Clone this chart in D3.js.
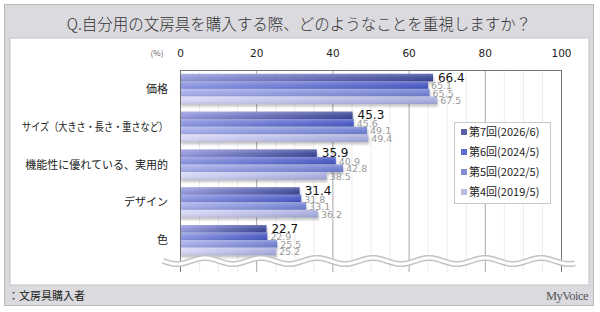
<!DOCTYPE html>
<html><head><meta charset="utf-8">
<script src="https://cdn.jsdelivr.net/npm/d3@7"></script>
<style>
html,body{margin:0;padding:0;background:#fff;}
svg{display:block;font-family:"Noto Sans CJK JP","Noto Sans",sans-serif;}
</style></head>
<body><svg id="c" width="600" height="312"></svg>
<script>
const title = "Q.自分用の文房具を購入する際、どのようなことを重視しますか？";
const categories = ["価格","サイズ（大きさ・長さ・重さなど）","機能性に優れている、実用的","デザイン","色"];
const seriesNames = ["第7回(2026/6)","第6回(2024/5)","第5回(2022/5)","第4回(2019/5)"];
const s7 = [66.4,45.3,35.9,31.4,22.7];
const s6 = [65.1,45.6,40.9,31.8,22.9];
const s5 = [65.5,49.1,42.8,33.1,25.5];
const s4 = [67.5,49.4,38.5,36.2,25.2];
const tickValues = [0,20,40,60,80,100];
const footnote = "：文房具購入者";
const brand = "MyVoice";

const seriesValues = [s7,s6,s5,s4];
const gradStops = [["#9499dc","#3b4596"],["#8c96e2","#4656c2"],["#a6aeea","#6f7ed0"],["#d6d6f6","#a4aadc"]];
const legendColors = ["#5a60a8","#5e6ecf","#848ed4","#b8bce2"];

const svg = d3.select("#c");
const defs = svg.append("defs");
gradStops.forEach((g,i)=>{
  const lg = defs.append("linearGradient").attr("id","g"+i).attr("x1","0").attr("x2","1").attr("y1","0").attr("y2","0");
  lg.append("stop").attr("offset","0").attr("stop-color",g[0]);
  lg.append("stop").attr("offset","1").attr("stop-color",g[1]);
});
const gloss = defs.append("linearGradient").attr("id","gloss").attr("x1","0").attr("x2","0").attr("y1","0").attr("y2","1");
gloss.append("stop").attr("offset","0").attr("stop-color","#fff").attr("stop-opacity",0.25);
gloss.append("stop").attr("offset","0.5").attr("stop-color","#fff").attr("stop-opacity",0.05);
gloss.append("stop").attr("offset","1").attr("stop-color","#000").attr("stop-opacity",0.08);
const blur = defs.append("filter").attr("id","sh").attr("x","-5%").attr("y","-50%").attr("width","110%").attr("height","200%");
blur.append("feGaussianBlur").attr("stdDeviation",1.2);

// frame
svg.append("rect").attr("x",4.5).attr("y",4.5).attr("width",589).attr("height",301).attr("fill","#dbdadf").attr("stroke","#b9b9bd");
svg.append("rect").attr("x",10).attr("y",38).attr("width",579).attr("height",247).attr("fill","#fff").attr("stroke","#c4c4c8");
svg.append("text").attr("x",299).attr("y",30).attr("text-anchor","middle").attr("font-size",15.5).attr("font-weight",300).attr("fill","#333").text(title);

const x = d3.scaleLinear().domain([0,100]).range([180,561]);
const y = d3.scaleBand().domain(categories).range([70,259]).paddingInner(0.2).paddingOuter(0.1);
const y1 = d3.scaleBand().domain(seriesNames).range([0,y.bandwidth()]);
const plotTop = 70, plotBottom = 272;

// minor grid
svg.append("g").selectAll("line").data(d3.range(5,100,5).filter(v=>v%20!==0)).join("line")
  .attr("x1",d=>x(d)+0.5).attr("x2",d=>x(d)+0.5).attr("y1",plotTop).attr("y2",plotBottom)
  .attr("stroke","#ececec");
// major grid
svg.append("g").selectAll("line").data(tickValues.slice(1,-1)).join("line")
  .attr("x1",d=>x(d)+0.5).attr("x2",d=>x(d)+0.5).attr("y1",plotTop).attr("y2",plotBottom)
  .attr("stroke","#a8a8a8");
svg.append("line").attr("x1",x(0)+0.5).attr("x2",x(0)+0.5).attr("y1",plotTop).attr("y2",plotBottom).attr("stroke","#777");
svg.append("line").attr("x1",x(100)+0.5).attr("x2",x(100)+0.5).attr("y1",plotTop).attr("y2",plotBottom).attr("stroke","#777");
svg.append("line").attr("x1",x(0)).attr("x2",x(100)+1).attr("y1",plotTop+0.5).attr("y2",plotTop+0.5).attr("stroke","#777");

// top axis
const axis = d3.axisTop(x).tickValues(tickValues).tickSize(0).tickPadding(0);
const ag = svg.append("g").attr("transform","translate(0,57)").call(axis);
ag.select(".domain").remove();
ag.selectAll("text").attr("fill","#222").attr("font-family","'DejaVu Sans',sans-serif").attr("font-size",10.5);
svg.append("text").attr("x",157).attr("y",56).attr("text-anchor","middle").attr("font-size",8).attr("fill","#666").text("(%)");

// category labels
svg.append("g").selectAll("text").data(categories).join("text")
  .attr("x",168).attr("y",d=>y(d)+y.bandwidth()/2+4).attr("text-anchor","end")
  .attr("font-size",11).attr("fill","#222").text(d=>d)
  .each(function(){
    const w = this.getComputedTextLength();
    if (w > 146) d3.select(this).attr("textLength",146).attr("lengthAdjust","spacingAndGlyphs");
  });

// bars
const groups = svg.append("g").selectAll("g").data(categories).join("g")
  .attr("transform",d=>`translate(0,${y(d)})`);
groups.each(function(c,ci){
  const g = d3.select(this);
  seriesValues.forEach((vals,si)=>{
    g.append("rect").attr("x",x(0)+1).attr("y",y1(seriesNames[si])+2.5).attr("width",x(vals[ci])-x(0)).attr("height",y1.bandwidth())
      .attr("fill","#000").attr("opacity",0.22).attr("filter","url(#sh)");
  });
  seriesValues.forEach((vals,si)=>{
    g.append("rect").attr("x",x(0)+1).attr("y",y1(seriesNames[si])).attr("width",x(vals[ci])-x(0)-1).attr("height",y1.bandwidth())
      .attr("fill",`url(#g${si})`);
    g.append("rect").attr("x",x(0)+1).attr("y",y1(seriesNames[si])).attr("width",x(vals[ci])-x(0)-1).attr("height",y1.bandwidth())
      .attr("fill","url(#gloss)");
  });
  seriesValues.forEach((vals,si)=>{
    const first = si===0;
    g.append("text").attr("x",x(vals[ci])+(first?5:3)).attr("y",y1(seriesNames[si])+y1.bandwidth()/2+4)
      .attr("font-size",first?12:9.5).attr("fill",first?"#111":"#999")
      .attr("font-family","'DejaVu Sans',sans-serif")
      .text(d3.format(".1f")(vals[ci]));
  });
});

// wavy break
const wave = d3.range(163,576,2).map(px=>[px, 261 + 3*Math.sin((px-163)/56*2*Math.PI)]);
const line = d3.line().curve(d3.curveBasis);
svg.append("path").attr("d",line(wave)).attr("fill","none").attr("stroke","#c2c2c2").attr("stroke-width",6);
svg.append("path").attr("d",line(wave)).attr("fill","none").attr("stroke","#fff").attr("stroke-width",3);

// legend
const lgx = 454, lgy = 122;
svg.append("rect").attr("x",lgx+0.5).attr("y",lgy+0.5).attr("width",96).attr("height",81).attr("fill","#fff").attr("stroke","#c8c8c8");
const le = svg.append("g").selectAll("g").data(seriesNames).join("g")
  .attr("transform",(d,i)=>`translate(${lgx+7},${lgy+10+i*20})`);
le.append("rect").attr("x",0).attr("y",-3).attr("width",6).attr("height",6).attr("fill",(d,i)=>legendColors[i]);
le.append("text").attr("x",8).attr("y",4).attr("font-size",11).attr("fill","#222").text(d=>d);

// footer
svg.append("text").attr("x",8).attr("y",300).attr("font-size",11).attr("fill","#222").text(footnote);
svg.append("text").attr("x",588).attr("y",300).attr("text-anchor","end").attr("font-size",12.5).attr("fill","#555")
  .attr("font-family","'Liberation Serif',serif").attr("letter-spacing","-0.5").text(brand);
</script></body></html>
